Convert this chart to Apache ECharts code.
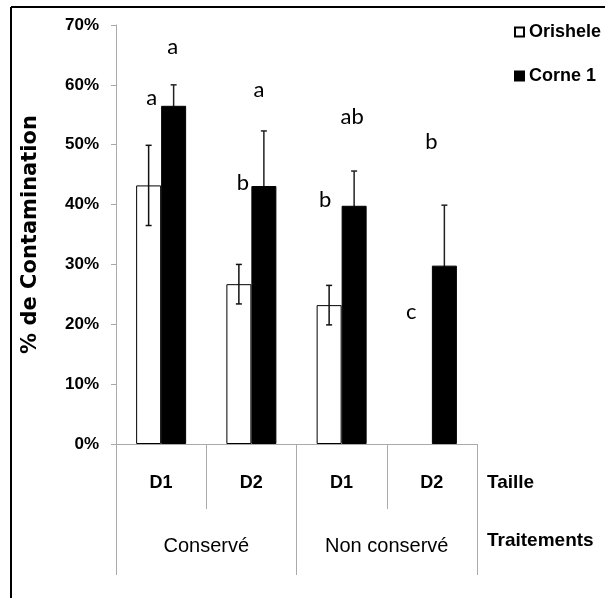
<!DOCTYPE html>
<html><head><meta charset="utf-8">
<script src="https://cdn.jsdelivr.net/npm/echarts@6/dist/echarts.min.js"></script>
<style>html,body{margin:0;padding:0;background:#fff}#c{width:605px;height:598px}</style>
</head><body><div id="c"></div>
<script>
const categories = ['Conservé D1', 'Conservé D2', 'Non conservé D1', 'Non conservé D2'];
const tailleLabels = ['D1', 'D2', 'D1', 'D2'];
const traitementLabels = ['Conservé', 'Non conservé'];
const seriesNames = ['Orishele', 'Corne 1'];
const orishele = [43.2, 26.7, 23.2, null];
const orisheleErr = [6.7, 3.3, 3.3, null];
const corne = [56.5, 43.1, 39.8, 29.8];
const corneErr = [3.5, 9.2, 5.8, 10.1];
const orisheleLetters = ['a', 'b', 'b', 'c'];
const orisheleLetterY = [57.8, 43.7, 40.7, 22.0];
const corneLetters = ['a', 'a', 'ab', 'b'];
const corneLetterY = [66.3, 59.1, 54.6, 50.4];

const BAR_W = 25;
const SANS = "'Liberation Sans', Arial, sans-serif";
const orisheleLetterDx = [3, 4, -4, -8];
const corneLetterDx = [-1, -5, -2, -13];

function errSeries(name, vals, errs, dx, color, z) {
  const data = [];
  vals.forEach((v, i) => { if (v != null && errs[i] != null) data.push([i, v, errs[i]]); });
  return {
    type: 'custom', name: name, z: z, silent: true,
    renderItem: function (params, api) {
      const i = api.value(0), v = api.value(1), e = api.value(2);
      const hi = api.coord([i, v + e]);
      const lo = api.coord([i, v - e]);
      const cx = hi[0] + dx;
      const st = { stroke: color, lineWidth: 1.5 };
      return { type: 'group', children: [
        { type: 'line', shape: { x1: cx, y1: hi[1], x2: cx, y2: lo[1] }, style: st },
        { type: 'line', shape: { x1: cx - 3, y1: hi[1], x2: cx + 3, y2: hi[1] }, style: st },
        { type: 'line', shape: { x1: cx - 3, y1: lo[1], x2: cx + 3, y2: lo[1] }, style: st }
      ]};
    },
    data: data
  };
}
function letterSeries(name, letters, ys, dx, barDx) {
  const data = letters.map((l, i) => [i, ys[i]]);
  return {
    type: 'custom', name: name, z: 6, silent: true,
    renderItem: function (params, api) {
      const i = api.value(0), y = api.value(1);
      const p = api.coord([i, y]);
      return { type: 'text', x: p[0] + barDx + dx[params.dataIndex], y: p[1],
        style: { text: letters[params.dataIndex], font: "22px Lato, 'Open Sans', sans-serif",
          fill: '#000', align: 'center', verticalAlign: 'middle' } };
    },
    data: data
  };
}

const chart = echarts.init(document.getElementById('c'));
chart.setOption({
  animation: false,
  backgroundColor: '#fff',
  grid: { left: 116, right: 128, top: 25, bottom: 154 },
  legend: {
    data: seriesNames, orient: 'vertical', left: 514, top: 23, padding: 0,
    icon: 'rect', itemWidth: 9, itemHeight: 9, itemGap: 26,
    textStyle: { fontFamily: SANS, fontWeight: 'bold', fontSize: 18, color: '#000' }
  },
  xAxis: [{
    type: 'category', data: categories, position: 'bottom',
    axisLine: { lineStyle: { color: '#aaa', width: 1 } },
    axisTick: { show: true, length: 65, alignWithLabel: false, lineStyle: { color: '#aaa' } },
    axisLabel: { margin: 30, formatter: (v, i) => tailleLabels[i],
      fontFamily: SANS, fontWeight: 'bold', fontSize: 18, color: '#000' }
  }, {
    type: 'category', data: traitementLabels, position: 'bottom',
    axisLine: { show: false },
    axisTick: { show: true, length: 131, lineStyle: { color: '#aaa' } },
    axisLabel: { margin: 92, fontFamily: SANS, fontSize: 20, color: '#000' }
  }],
  yAxis: {
    type: 'value', min: 0, max: 70, interval: 10,
    name: '% de Contamination', nameLocation: 'middle', nameGap: 75, nameRotate: 90,
    nameTextStyle: { fontFamily: "'DejaVu Sans', Verdana, sans-serif", fontWeight: 'bold', fontSize: 21, color: '#000' },
    axisLine: { show: true, lineStyle: { color: '#aaa' } },
    axisTick: { show: true, length: 5, lineStyle: { color: '#aaa' } },
    splitLine: { show: false },
    axisLabel: { formatter: '{value}%', margin: 17, fontFamily: SANS, fontWeight: 'bold', fontSize: 17, color: '#000' }
  },
  series: [
    { type: 'bar', name: seriesNames[0], data: orishele, barWidth: BAR_W, barGap: '0%', z: 2,
      itemStyle: { color: '#fff', borderColor: '#000', borderWidth: 1 } },
    { type: 'bar', name: seriesNames[1], data: corne, barWidth: BAR_W, barGap: '0%', z: 2,
      itemStyle: { color: '#000', borderColor: '#000', borderWidth: 1 } },
    errSeries('errO', orishele, orisheleErr, -BAR_W / 2, '#111', 5),
    errSeries('errC', corne, corneErr, BAR_W / 2, '#222', 1),
    letterSeries('letO', orisheleLetters, orisheleLetterY, orisheleLetterDx, -BAR_W / 2),
    letterSeries('letC', corneLetters, corneLetterY, corneLetterDx, BAR_W / 2)
  ],
  graphic: [
    { type: 'line', shape: { x1: 11, y1: 7, x2: 605, y2: 7 }, style: { stroke: '#000', lineWidth: 2 } },
    { type: 'line', shape: { x1: 11, y1: 7, x2: 11, y2: 598 }, style: { stroke: '#000', lineWidth: 2 } },
    { type: 'text', left: 487, top: 473, style: { text: 'Taille', font: "bold 19px " + SANS, fill: '#000' } },
    { type: 'text', left: 487, top: 531, style: { text: 'Traitements', font: "bold 19px " + SANS, fill: '#000' } }
  ]
});
</script></body></html>
